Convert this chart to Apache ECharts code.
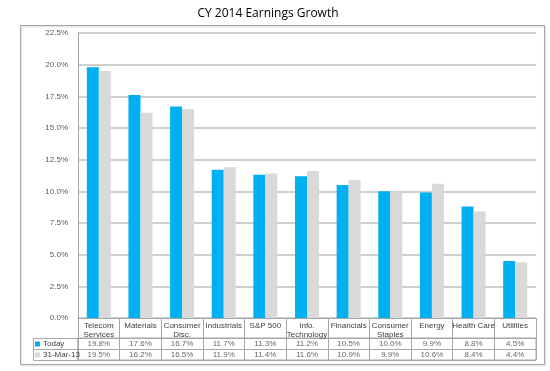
<!DOCTYPE html>
<html><head><meta charset="utf-8">
<script src="https://cdn.jsdelivr.net/npm/echarts@6/dist/echarts.min.js"></script>
<style>html,body{margin:0;padding:0;background:#fff}#c{width:550px;height:371px}</style>
</head><body><div id="c"></div>
<script>
var categories = ["Telecom\nServices","Materials","Consumer\nDisc.","Industrials","S&P 500","Info.\nTechnology","Financials","Consumer\nStaples","Energy","Health Care","Utilities"];
var todayValues = [19.8,17.6,16.7,11.7,11.3,11.2,10.5,10.0,9.9,8.8,4.5];
var marValues = [19.5,16.2,16.5,11.9,11.4,11.6,10.9,9.9,10.6,8.4,4.4];
var seriesNames = ["Today","31-Mar-13"];
var yTicks = {min:0,max:22.5,interval:2.5};

var FONT = '"Liberation Sans Narrow","Liberation Sans",sans-serif';
var BLUE = '#00B0F0', GREY = '#D9D9D9', LINE = '#A6A6A6', TXT = '#404040';

function rowData(vals,row){return vals.map(function(v,i){return {value:[i,row],raw:v};});}

var chart = echarts.init(document.getElementById('c'));
chart.setOption({
  animation:false,
  textStyle:{fontFamily:FONT},
  title:{text:'CY 2014 Earnings Growth',left:263,textAlign:'center',top:3,
    textStyle:{fontFamily:'"Open Sans",sans-serif',fontSize:12,fontWeight:'normal',color:'#000'}},
  legend:{orient:'vertical',left:35,top:338.5,padding:0,itemWidth:5,itemHeight:5,itemGap:0,
    icon:'rect',data:seriesNames,
    textStyle:{fontSize:8,color:TXT,fontFamily:FONT,lineHeight:11,height:11,padding:[0,0,0,-2]}},
  grid:[
    {left:78,right:14,top:33,height:285},
    {left:78,right:14,top:338,height:22,show:true,borderColor:LINE,borderWidth:1}
  ],
  xAxis:[
    {type:'category',gridIndex:0,data:categories,
      axisLine:{lineStyle:{color:LINE,width:1}},
      axisTick:{show:true,length:20,lineStyle:{color:LINE}},
      axisLabel:{interval:0,fontSize:8,lineHeight:9,color:TXT,margin:3,fontFamily:FONT}},
    {type:'category',gridIndex:1,data:categories,
      axisLine:{show:false},axisTick:{show:false},axisLabel:{show:false},
      splitLine:{show:true,interval:0,lineStyle:{color:LINE,width:1}}}
  ],
  yAxis:[
    {type:'value',gridIndex:0,min:yTicks.min,max:yTicks.max,interval:yTicks.interval,
      axisLine:{show:true,lineStyle:{color:LINE,width:1}},
      axisTick:{show:false},
      axisLabel:{fontSize:8,color:'#595959',margin:10,fontFamily:FONT,
        formatter:function(v){return v.toFixed(1)+'%';}},
      splitLine:{lineStyle:{color:'#BFBFBF',width:1.5}}},
    {type:'value',gridIndex:1,min:0,max:2,interval:1,
      axisLine:{show:false},axisTick:{show:false},axisLabel:{show:false},
      splitLine:{show:true,lineStyle:{color:LINE,width:1}}}
  ],
  series:[
    {name:seriesNames[0],type:'bar',xAxisIndex:0,yAxisIndex:0,data:todayValues,
      itemStyle:{color:BLUE},barWidth:12,barGap:'0%'},
    {name:seriesNames[1],type:'bar',xAxisIndex:0,yAxisIndex:0,data:marValues,
      itemStyle:{color:GREY},barWidth:12,barGap:'0%'},
    {type:'scatter',xAxisIndex:1,yAxisIndex:1,symbolSize:0,data:rowData(todayValues,1.5),
      label:{show:true,position:'inside',fontSize:8,color:TXT,fontFamily:FONT,
        formatter:function(p){return p.data.raw.toFixed(1)+'%';}},silent:true},
    {type:'scatter',xAxisIndex:1,yAxisIndex:1,symbolSize:0,data:rowData(marValues,0.5),
      label:{show:true,position:'inside',fontSize:8,color:TXT,fontFamily:FONT,
        formatter:function(p){return p.data.raw.toFixed(1)+'%';}},silent:true}
  ],
  graphic:[
    {type:'rect',shape:{x:20.5,y:25.5,width:524,height:339},
      style:{fill:null,stroke:'#A6A6A6',lineWidth:1,shadowBlur:2,shadowColor:'rgba(0,0,0,0.2)',shadowOffsetX:1,shadowOffsetY:1},z:-1},
    {type:'rect',shape:{x:33.5,y:338.5,width:44.5,height:22},style:{fill:null,stroke:LINE,lineWidth:1}},
    {type:'line',shape:{x1:33.5,y1:349.5,x2:78,y2:349.5},style:{stroke:LINE,lineWidth:1}}
  ]
});
</script></body></html>
